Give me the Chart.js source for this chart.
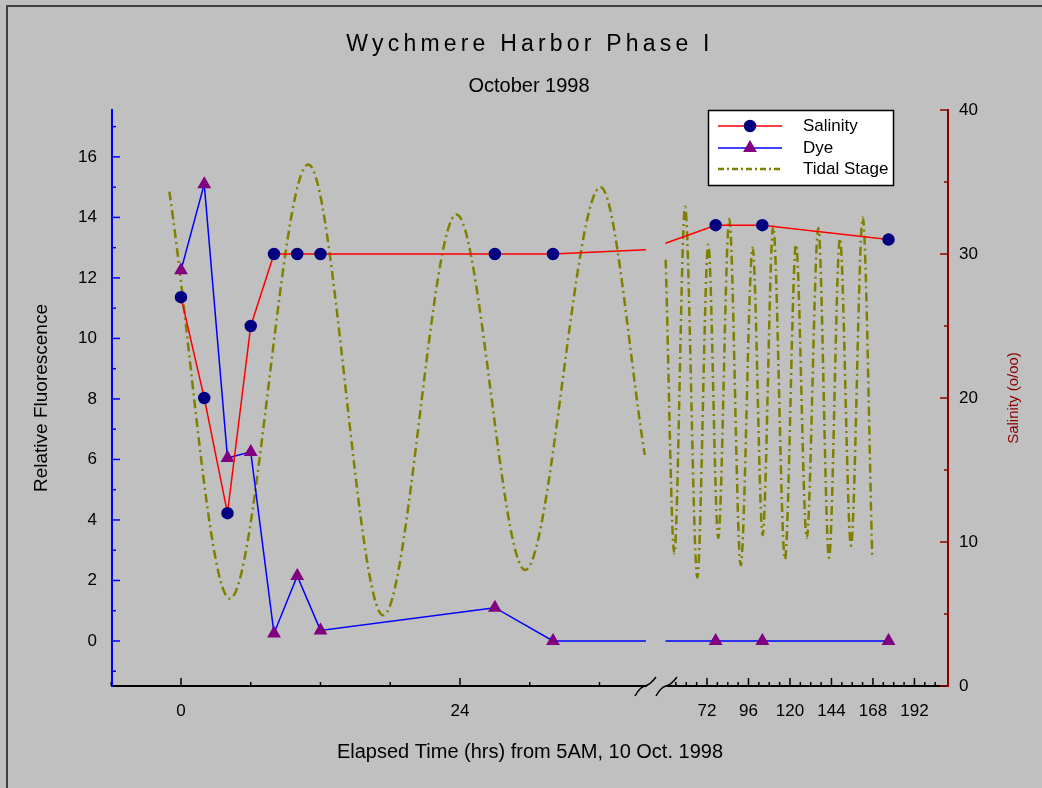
<!DOCTYPE html>
<html>
<head>
<meta charset="utf-8">
<script src="https://cdn.jsdelivr.net/npm/chart.js@4.4.1/dist/chart.umd.min.js"></script>
<style>
  html, body { margin: 0; padding: 0; background: #c0c0c0; }
</style>
</head>
<body>
<canvas id="chart" width="1042" height="788"></canvas>
<script>
// sampling times, hrs from 5AM 10 Oct 1998
const sampleHours = [0, 2, 4, 6, 8, 10, 12, 27, 32, 77, 104, 177]
const salinity = [27.0, 20.0, 12.0, 25.0, 30.0, 30.0, 30.0, 30.0, 30.0, 32.0, 32.0, 31.0]
const dye = [12.25, 15.1, 6.05, 6.25, 0.25, 2.15, 0.35, 1.1, 0, 0, 0, 0]

// values where the lines get cut by the axis break
const breakHours = [40, 48]
const salinityAtBreak = [30.3, 30.75]
const dyeAtBreak = [0, 0]

// tidal stage (peaks / troughs)
const tideHours = [-1.0, 4.2, 10.95, 17.4, 23.7, 29.6, 36.1, 39.9,
  48.1, 53.1, 59.3, 66.4, 72.75, 78.5, 84.9, 91.5, 98.4, 104.2, 110.3,
  117.1, 123.5, 129.7, 136.4, 142.6, 148.9, 155.3, 162.1, 167.6]
const tide = [14.85, 1.4, 15.75, 0.85, 14.1, 2.35, 15.0, 6.15,
  12.6, 2.9, 14.35, 2.1, 13.1, 3.4, 13.95, 2.5, 13.0, 3.5, 13.7,
  2.7, 13.1, 3.4, 13.65, 2.75, 13.3, 3.15, 14.0, 2.75]

const xTicks = [0, 24, 72, 96, 120, 144, 168, 192]
const fluorTicks = [0, 2, 4, 6, 8, 10, 12, 14, 16]
const salTicks = [0, 10, 20, 30, 40]

// broken time axis: 0-40 h full scale, 48 h onwards squeezed
const BREAK_START = 40
const BREAK_END = 48
const BREAK_GAP = 1.68
const RIGHT_SCALE = 0.1487

function position(h) {
  if (h <= BREAK_START) return h
  return BREAK_START + BREAK_GAP + (h - BREAK_END) * RIGHT_SCALE
}

function buildSeries(hours, values, extraHours, extraValues) {
  let all = hours.map((h, i) => ({ h: h, v: values[i] }))
  if (extraHours) {
    all = all.concat(extraHours.map((h, i) => ({ h: h, v: extraValues[i], edge: true })))
  }
  all.sort((a, b) => a.h - b.h)
  const points = []
  all.forEach(p => {
    const last = points[points.length - 1]
    if (last && last.h <= BREAK_START && p.h >= BREAK_END) {
      points.push({ x: position(44), y: null, h: 44 })
    }
    points.push({ x: position(p.h), y: p.v, h: p.h, edge: p.edge })
  })
  return points
}

const FONT = '"Liberation Sans", Arial, sans-serif'
Chart.defaults.font.family = FONT
Chart.defaults.color = '#000'

const noEdge = r => c => (c.raw && c.raw.edge) ? 0 : r

const decorations = {
  id: 'decorations',
  beforeDraw(chart) {
    const ctx = chart.ctx
    ctx.save()
    ctx.fillStyle = '#c0c0c0'
    ctx.fillRect(0, 0, chart.width, chart.height)
    ctx.restore()
  },
  afterDraw(chart) {
    const ctx = chart.ctx
    const { x, y, y2 } = chart.scales
    const area = chart.chartArea
    ctx.save()

    // inward tick marks
    ctx.lineWidth = 1.5
    ctx.strokeStyle = '#000'
    for (let h = -6; h <= 204; h += 6) {
      if (h > BREAK_START && h < 54) continue
      const px = x.getPixelForValue(position(h))
      const len = xTicks.includes(h) ? 8 : 4
      ctx.beginPath(); ctx.moveTo(px, area.bottom); ctx.lineTo(px, area.bottom - len); ctx.stroke()
    }
    ctx.strokeStyle = '#0000ff'
    for (let v = -1; v <= 17; v++) {
      const py = y.getPixelForValue(v)
      const len = v % 2 === 0 ? 8 : 4
      ctx.beginPath(); ctx.moveTo(area.left, py); ctx.lineTo(area.left + len, py); ctx.stroke()
    }
    ctx.strokeStyle = '#8b0000'
    for (let v = 0; v <= 40; v += 5) {
      const py = y2.getPixelForValue(v)
      const len = v % 10 === 0 ? 8 : 4
      ctx.beginPath(); ctx.moveTo(area.right, py); ctx.lineTo(area.right - len, py); ctx.stroke()
    }

    // axis break
    const b0 = x.getPixelForValue(BREAK_START)
    const b1 = x.getPixelForValue(position(BREAK_END))
    ctx.fillStyle = '#c0c0c0'
    ctx.fillRect(b0 + 1, area.bottom - 3, b1 - b0, 6)
    ctx.strokeStyle = '#000'
    ctx.lineWidth = 1.5
    ;[b0 - 11, b0 + 10].forEach(sx => {
      ctx.beginPath()
      ctx.moveTo(sx, area.bottom + 10)
      ctx.quadraticCurveTo(sx + 5, area.bottom + 1, sx + 10, area.bottom)
      ctx.quadraticCurveTo(sx + 15, area.bottom - 1, sx + 21, area.bottom - 9)
      ctx.stroke()
    })

    // titles
    ctx.fillStyle = '#000'
    ctx.textAlign = 'center'
    ctx.textBaseline = 'middle'
    ctx.font = '23px ' + FONT
    ctx.letterSpacing = '4.2px'
    ctx.fillText('Wychmere Harbor Phase I', 530, 45)
    ctx.letterSpacing = '0px'
    ctx.font = '20px ' + FONT
    ctx.fillText('October 1998', 529, 86)

    ctx.save()
    ctx.translate(1014, (area.top + area.bottom) / 2)
    ctx.rotate(-Math.PI / 2)
    ctx.fillStyle = '#8b0000'
    ctx.font = '15px ' + FONT
    ctx.fillText('Salinity (o/oo)', 0, 0)
    ctx.restore()

    // legend
    ctx.fillStyle = '#fff'
    ctx.fillRect(708, 110, 186, 76)
    ctx.strokeStyle = '#000'
    ctx.lineWidth = 1.5
    ctx.strokeRect(708.5, 110.5, 185, 75)
    const rows = [126, 148, 169]
    chart.data.datasets.forEach((ds, i) => {
      const ry = rows[i]
      ctx.save()
      ctx.strokeStyle = ds.borderColor
      ctx.lineWidth = ds.borderWidth
      if (ds.borderDash) ctx.setLineDash([6, 3, 2, 3])
      ctx.beginPath(); ctx.moveTo(718, ry); ctx.lineTo(782, ry); ctx.stroke()
      ctx.restore()
      if (ds.legendMarker) {
        ctx.fillStyle = ds.pointBackgroundColor
        ctx.strokeStyle = ds.pointBorderColor
        Chart.helpers.drawPoint(ctx, {
          pointStyle: ds.pointStyle, radius: ds.legendMarker, rotation: 0, borderWidth: 1
        }, 750, ry)
      }
      ctx.fillStyle = '#000'
      ctx.textAlign = 'left'
      ctx.font = '17px ' + FONT
      ctx.fillText(ds.label, 803, ry)
    })

    // frame
    ctx.strokeStyle = '#404040'
    ctx.lineWidth = 2
    ctx.beginPath()
    ctx.moveTo(7, chart.height)
    ctx.lineTo(7, 6)
    ctx.lineTo(chart.width, 6)
    ctx.stroke()
    ctx.restore()
  }
}

const grafico = new Chart(document.getElementById('chart'), {
  type: 'line',
  data: {
    datasets: [{
      label: 'Salinity',
      data: buildSeries(sampleHours, salinity, breakHours, salinityAtBreak),
      yAxisID: 'y2',
      borderColor: '#ff0000',
      borderWidth: 1.5,
      pointStyle: 'circle',
      pointRadius: noEdge(5.5),
      pointBackgroundColor: '#000080',
      pointBorderColor: '#000080',
      legendMarker: 5.5
    }, {
      label: 'Dye',
      data: buildSeries(sampleHours, dye, breakHours, dyeAtBreak),
      yAxisID: 'y',
      borderColor: '#0000ff',
      borderWidth: 1.5,
      pointStyle: 'triangle',
      pointRadius: noEdge(6.5),
      pointBackgroundColor: '#800080',
      pointBorderColor: '#800080',
      legendMarker: 6.5
    }, {
      label: 'Tidal Stage',
      data: buildSeries(tideHours, tide),
      yAxisID: 'y',
      borderColor: '#808000',
      borderWidth: 2.5,
      borderDash: [9, 4, 2, 4],
      cubicInterpolationMode: 'monotone',
      pointRadius: 0
    }]
  },
  options: {
    responsive: false,
    animation: false,
    devicePixelRatio: 1,
    layout: { padding: { top: 110, left: 0, right: 0, bottom: 0 } },
    plugins: { legend: { display: false }, title: { display: false }, tooltip: { enabled: false } },
    scales: {
      x: {
        type: 'linear',
        position: 'bottom',
        min: -5.935,
        max: 65.98,
        grid: { display: false, drawTicks: false },
        border: { color: '#000', width: 2 },
        afterBuildTicks: s => { s.ticks = xTicks.map(h => ({ value: position(h) })) },
        afterFit: s => { s.height = 102 },
        ticks: { autoSkip: false, maxRotation: 0, padding: 15, font: { size: 17 }, callback: (v, i) => xTicks[i] },
        title: { display: true, text: 'Elapsed Time (hrs) from 5AM, 10 Oct. 1998', font: { size: 20 }, padding: { top: 0, bottom: 24 } }
      },
      y: {
        position: 'left',
        min: -1.488,
        max: 17.55,
        grid: { display: false, drawTicks: false },
        border: { color: '#0000ff', width: 2 },
        afterBuildTicks: s => { s.ticks = fluorTicks.map(v => ({ value: v })) },
        afterFit: s => { s.width = 112 },
        ticks: { padding: 15, font: { size: 17 } },
        title: { display: true, text: 'Relative Fluorescence', font: { size: 19 }, padding: { top: 30.6, bottom: 0 } }
      },
      y2: {
        position: 'right',
        min: 0,
        max: 40,
        grid: { display: false, drawTicks: false },
        border: { color: '#8b0000', width: 2 },
        afterBuildTicks: s => { s.ticks = salTicks.map(v => ({ value: v })) },
        afterFit: s => { s.width = 94 },
        ticks: { padding: 11, font: { size: 17 } }
      }
    }
  },
  plugins: [decorations]
})
</script>
</body>
</html>
